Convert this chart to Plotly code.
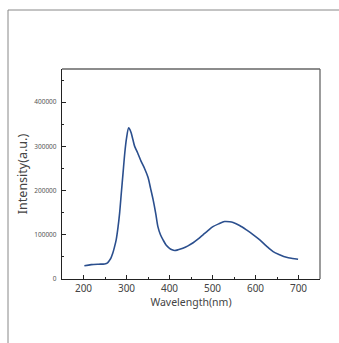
import plotly.graph_objects as go

wavelength = [202, 218, 235, 249, 256, 260, 264, 268, 272, 276, 280, 284, 288, 292, 296, 300, 305, 308, 311, 315, 319, 326, 334, 342, 350, 356, 362, 368, 373, 379, 385, 392, 400, 406, 412, 420, 431, 443, 455, 466, 478, 490, 501, 515, 528, 540, 548, 563, 579, 595, 610, 625, 641, 656, 672, 686, 699]
intensity = [30000, 32500, 33500, 34000, 36500, 41500, 48000, 58000, 72000, 88500, 115000, 149000, 195000, 240000, 285000, 318000, 342000, 338000, 330000, 315000, 300000, 285000, 266000, 250000, 230000, 205000, 179000, 148000, 118500, 100000, 88500, 77000, 69500, 66000, 64500, 66000, 69500, 75000, 82000, 90000, 100000, 110000, 118500, 125000, 130000, 129500, 127700, 121000, 111000, 100000, 88500, 75000, 62000, 55000, 49000, 46500, 44700]

x_ticks = [200, 300, 400, 500, 600, 700]
y_ticks = [0, 100000, 200000, 300000, 400000]

fig = go.Figure()
fig.add_trace(go.Scatter(
    x=wavelength, y=intensity, mode="lines",
    line=dict(color="#2b4f8e", width=1.6, shape="spline", smoothing=0.8),
    showlegend=False, hoverinfo="skip"))

L, R, T, B = 62, 19, 69, 64
W, H = 339, 343
pw, ph = W - L - R, H - T - B

fig.update_layout(
    width=W, height=H,
    margin=dict(l=L, r=R, t=T, b=B, pad=0),
    paper_bgcolor="white", plot_bgcolor="white",
    font=dict(family="Noto Sans, Open Sans, sans-serif", color="#444"),
    xaxis=dict(
        range=[150, 750], tickvals=x_ticks, ticktext=[str(v) for v in x_ticks],
        ticks="inside", ticklen=4, tickwidth=1, tickcolor="#222",
        minor=dict(tickvals=[250, 350, 450, 550, 650], ticks="inside", ticklen=2, tickcolor="#222"),
        showline=True, linecolor="#222", linewidth=1.3, mirror=False,
        showgrid=False, zeroline=False,
        tickfont=dict(size=10, color="#444"),
        title=dict(text="Wavelength(nm)", font=dict(size=10.5, color="#444"), standoff=4),
    ),
    yaxis=dict(
        range=[0, 475000], tickvals=y_ticks, ticktext=[str(v) for v in y_ticks],
        ticks="inside", ticklen=4, tickwidth=1, tickcolor="#222",
        minor=dict(tickvals=[50000, 150000, 250000, 350000, 450000], ticks="inside", ticklen=2, tickcolor="#222"),
        showline=True, linecolor="#222", linewidth=1.3, mirror=False,
        showgrid=False, zeroline=False,
        tickfont=dict(size=6.5, color="#555555"),
        ticklabelstandoff=3,
        title=dict(text="Intensity(a.u.)", font=dict(size=12.5, color="#444"), standoff=3),
    ),
)

# top and right frame of the plot area (lighter)
fig.add_shape(type="line", xref="paper", yref="paper", x0=0, x1=1, y0=1, y1=1,
              line=dict(color="#666", width=1.3))
fig.add_shape(type="line", xref="paper", yref="paper", x0=1, x1=1, y0=0, y1=1,
              line=dict(color="#666", width=1.3))

# outer frame (left and top edges visible)
ox = (8 - L) / pw
oy = (H - B - 10) / ph
fig.add_shape(type="line", xref="paper", yref="paper", x0=ox, x1=(W + 5 - L) / pw, y0=oy, y1=oy,
              line=dict(color="#888", width=1))
fig.add_shape(type="line", xref="paper", yref="paper", x0=ox, x1=ox, y0=oy, y1=-(B + 10) / ph,
              line=dict(color="#888", width=1))

fig.write_html("out.html")
